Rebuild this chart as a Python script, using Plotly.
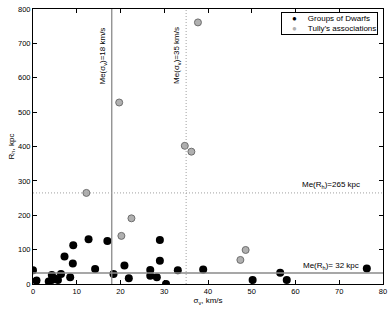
import plotly.graph_objects as go

# Groups of Dwarfs
dw_sigma = [0, 0.8, 3.6, 4.3, 4.3, 5.0, 5.7, 6.4, 7.2, 9.2, 9.1, 8.5, 12.7, 14.2, 17.0,
            18.4, 20.9, 21.9, 26.8, 26.8, 28.3, 29.0, 29.0, 30.4, 33.1, 38.9, 50.2,
            56.5, 58.0, 76.3]
dw_R = [40, 10, 7, 12, 26, 16, 12, 29, 80, 113, 60, 20, 130, 44, 125,
        29, 54, 17, 41, 24, 20, 128, 68, 0, 40, 42, 12,
        33, 12, 45]

# Tully's associations
tu_sigma = [12.2, 20.2, 22.5, 19.7, 37.7, 34.7, 36.2, 47.4, 48.6]
tu_R = [265, 140, 191, 528, 761, 402, 385, 70, 99]

med_sigma = [18, 35]
med_R = [265, 32]

series_names = ["Groups of Dwarfs", "Tully\u2019s associations"]

FONT = "Liberation Sans, Arial, sans-serif"
BLACK = "black"
GRAY_FILL = "#b0b0b0"
GRAY_EDGE = "#6e6e6e"

fig = go.Figure()
fig.add_trace(go.Scatter(x=dw_sigma, y=dw_R, mode="markers", name=series_names[0],
                         showlegend=False,
                         marker=dict(color=BLACK, size=8, line=dict(width=0))))
fig.add_trace(go.Scatter(x=tu_sigma, y=tu_R, mode="markers", name=series_names[1],
                         showlegend=False,
                         marker=dict(color=GRAY_FILL, size=7, line=dict(color=GRAY_EDGE, width=1))))

# median lines
fig.add_shape(type="line", xref="x", yref="paper", x0=med_sigma[0], x1=med_sigma[0], y0=0, y1=1,
              line=dict(color="#8a8a8a", width=1.3))
fig.add_shape(type="line", xref="x", yref="paper", x0=med_sigma[1], x1=med_sigma[1], y0=0, y1=1,
              line=dict(color="#a0a0a0", width=1, dash="1px,2px"))
fig.add_shape(type="line", xref="paper", yref="y", x0=0, x1=1, y0=med_R[1], y1=med_R[1],
              line=dict(color="#8a8a8a", width=1.3))
fig.add_shape(type="line", xref="paper", yref="y", x0=0, x1=1, y0=med_R[0], y1=med_R[0],
              line=dict(color="#a0a0a0", width=1, dash="1px,2px"))

afont = dict(family=FONT, size=8, color="black")
fig.add_annotation(x=med_sigma[0], y=664, text="Me(\u03c3<sub>v</sub>)=18 km/s", textangle=-90,
                   showarrow=False, xanchor="right", yanchor="middle", xshift=-2, font=afont)
fig.add_annotation(x=med_sigma[1], y=664, text="Me(\u03c3<sub>v</sub>)=35 km/s", textangle=-90,
                   showarrow=False, xanchor="right", yanchor="middle", xshift=-2, font=afont)
fig.add_annotation(x=75.3, y=med_R[0], text="Me(R<sub>h</sub>)=265 kpc", showarrow=False,
                   xanchor="right", yanchor="bottom", yshift=1, font=afont)
fig.add_annotation(x=75.0, y=med_R[1], text="Me(R<sub>h</sub>)= 32 kpc", showarrow=False,
                   xanchor="right", yanchor="bottom", yshift=0, font=afont)

# compact legend box
nb = "\u00a0"
legend_text = (
    f"{nb*4}<span style='color:{BLACK}'>\u25cf</span>{nb*5}{series_names[0]}<br>"
    f"{nb*4}<span style='color:{GRAY_FILL}'>\u25cf</span>{nb*5}{series_names[1]}"
)
fig.add_annotation(xref="paper", yref="paper", x=0.986, y=0.989, xanchor="right", yanchor="top",
                   text=legend_text, showarrow=False, align="left",
                   bordercolor="black", borderwidth=1, borderpad=1, bgcolor="white",
                   font=dict(family=FONT, size=8, color="black"))

axis_common = dict(showline=True, linecolor="black", linewidth=1, mirror="ticks",
                   ticks="inside", ticklen=4, tickcolor="black", showgrid=False,
                   zeroline=False, automargin=False,
                   tickfont=dict(family=FONT, size=7.5, color="black"))

fig.update_xaxes(range=[0, 80], dtick=10, tick0=0,
                 title=dict(text="\u03c3<sub>v</sub>, km/s", font=dict(family=FONT, size=8), standoff=0),
                 **axis_common)
fig.update_yaxes(range=[0, 800], dtick=100, tick0=0,
                 title=dict(text="R<sub>h</sub>, kpc", font=dict(family=FONT, size=8), standoff=2),
                 **axis_common)

fig.update_layout(
    width=390, height=311,
    margin=dict(l=33, r=7, t=9, b=27, autoexpand=False),
    plot_bgcolor="white", paper_bgcolor="white",
    font=dict(family=FONT, size=8, color="black"),
    showlegend=False,
)

fig.write_html("out.html", config={"displayModeBar": False},
               post_script="document.body.style.margin='0';document.body.style.overflow='hidden';")
